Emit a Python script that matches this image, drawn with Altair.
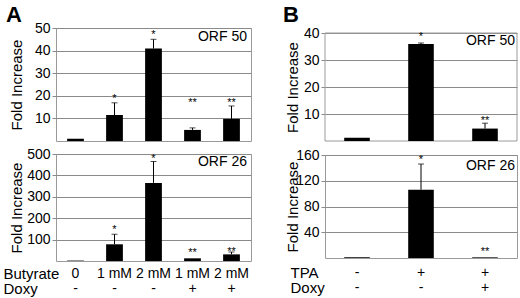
import altair as alt
import pandas as pd

FONT = "Liberation Sans"

# ---------------- Panel A (butyrate) ----------------
a_butyrate = ["0", "1 mM", "2 mM", "1 mM", "2 mM"]
a_doxy = ["-", "-", "-", "+", "+"]

a50_val = [1.0, 11.5, 40.9, 4.9, 9.8]
a50_err = [1.0, 16.9, 45.0, 5.8, 15.5]
a50_star = ["", "*", "*", "**", "**"]
a50_star_at = [0, 20, 48.4, 18.2, 18.2]
a50_ticks = [10, 20, 30, 40, 50]

a26_val = [2, 78, 365, 12.5, 31]
a26_err = [2, 125, 465, 12.5, 42]
a26_star = ["", "*", "*", "**", "**"]
a26_star_at = [0, 159, 492, 50, 55]
a26_ticks = [100, 200, 300, 400, 500]

# ---------------- Panel B (TPA) ----------------
b_tpa = ["-", "+", "+"]
b_doxy = ["-", "-", "+"]

b50_val = [1.2, 35.9, 4.6]
b50_err = [1.2, 36.3, 6.6]
b50_star = ["", "*", "**"]
b50_star_at = [0, 39.6, 8.7]
b50_ticks = [10, 20, 30, 40]

b26_val = [1, 106, 1]
b26_err = [1, 146, 1]
b26_star = ["", "*", "**"]
b26_star_at = [0, 157.6, 14.6]
b26_ticks = [40, 80, 120, 160]

FRAME = "#9a9a9a"


def panel(keys, vals, errs, stars, star_at, ymax, ticks, orf, w, h, pad,
          orf_x, orf_y, xaxis, ytitle_x, ytitle_y, label_size=14,
          letter=None, letter_x=0, letter_y=0, dom_max=None):
    df = pd.DataFrame({"key": keys, "val": vals, "err": errs,
                       "star": stars, "star_at": star_at})
    xs = alt.Scale(paddingInner=pad, paddingOuter=pad / 2)
    ys = alt.Scale(domain=[0, dom_max if dom_max else ymax], nice=False, zero=True)
    yaxis = alt.Axis(values=ticks, grid=True, gridColor="#8a8a8a", gridWidth=1,
                     domain=False, ticks=True, tickSize=4,
                     tickColor="#8a8a8a", labelFontSize=label_size, labelColor="black",
                     labelPadding=2, title="Fold Increase", titleX=ytitle_x, titleY=ytitle_y,
                     titleAngle=270, titleAlign="center", titleBaseline="middle",
                     titleFontSize=15, titleFontWeight="normal", titleColor="black")
    x = alt.X("key:N", sort=keys, scale=xs, axis=xaxis, title=None)
    base = alt.Chart(df)
    bars = base.mark_bar(color="black").encode(
        x=x, y=alt.Y("val:Q", scale=ys, axis=yaxis))
    rule = base.transform_filter("datum.err > datum.val").mark_rule(
        color="black", strokeWidth=1).encode(
        x=x, y=alt.Y("val:Q", scale=ys, axis=yaxis), y2="err:Q")
    cap = base.transform_filter("datum.err > datum.val").mark_tick(
        color="black", size=6, thickness=1).encode(
        x=x, y=alt.Y("err:Q", scale=ys, axis=yaxis))
    star = base.transform_filter("datum.star != ''").mark_text(
        fontSize=11, baseline="middle", dy=3, color="black").encode(
        x=x, y=alt.Y("star_at:Q", scale=ys, axis=yaxis), text="star:N")
    lab = alt.Chart(pd.DataFrame({"t": [orf]})).mark_text(
        align="right", baseline="middle", fontSize=14, color="black").encode(
        x=alt.value(orf_x), y=alt.value(orf_y), text="t:N")
    layers = [bars, rule, cap, star, lab]
    props = dict(width=w, height=h)
    if dom_max:
        # plot frame drawn through the y scale (from 0 up to the top tick)
        frame = alt.Chart(pd.DataFrame({"lo": [0], "hi": [ymax]})).mark_rect(
            filled=False, stroke=FRAME, strokeWidth=1).encode(
            x=alt.value(0), x2=alt.value(w),
            y=alt.Y("hi:Q", scale=ys, axis=yaxis), y2="lo:Q")
        layers.insert(0, frame)
        props["view"] = alt.ViewBackground(stroke=None)
    if letter is not None:
        layers.append(alt.Chart(pd.DataFrame({"t": [letter]})).mark_text(
            align="left", baseline="alphabetic", fontSize=22, fontWeight="bold",
            color="black").encode(
            x=alt.value(letter_x), y=alt.value(letter_y), text="t:N"))
    return alt.layer(*layers).properties(**props)


def bottom_axis(row_titles, title_x, pad):
    return alt.Axis(labelExpr="split(datum.value, '|')", labelAngle=0,
                    labelFontSize=14, labelLineHeight=15, labelPadding=pad,
                    labelColor="black", labelOverlap=False, ticks=False, domain=False,
                    title=row_titles, titleX=title_x, titleY=pad, titleAlign="left",
                    titleBaseline="top", titleAngle=0, titleFontSize=15,
                    titleFontWeight="normal", titleLineHeight=15, titleColor="black")


a_keys = [b + "|" + d for b, d in zip(a_butyrate, a_doxy)]
b_keys = [t + "|" + d for t, d in zip(b_tpa, b_doxy)]

A50 = panel(a_keys, a50_val, a50_err, a50_star, a50_star_at, 50, a50_ticks, "ORF 50",
            195, 113, 0.57, 191, 9, None, -40, 56.5,
            letter="A", letter_x=-50, letter_y=-6)
A26 = panel(a_keys, a26_val, a26_err, a26_star, a26_star_at, 500, a26_ticks, "ORF 26",
            195, 107, 0.57, 191, 8, bottom_axis(["Butyrate", "Doxy"], -53, 5), -40, 53.5)
# B50 shares its row origin with A50; its frame starts 5 px lower (top tick at 40)
B50 = panel(b_keys, b50_val, b50_err, b50_star, b50_star_at, 40, b50_ticks, "ORF 50",
            192, 113, 0.6, 190, 13, None, -33, 59,
            letter="B", letter_x=-42, letter_y=-6, dom_max=40 * 113 / 108)
B26 = panel(b_keys, b26_val, b26_err, b26_star, b26_star_at, 160, b26_ticks, "ORF 26",
            192, 103, 0.6, 190, 11, bottom_axis(["TPA", "Doxy"], -35, 7), -33, 51.5)

colA = alt.vconcat(A50, A26, spacing=13, bounds="flush")
colB = alt.vconcat(B50, B26, spacing=14, bounds="flush")

chart = alt.hconcat(colA, colB, spacing=31).properties(
    padding={"left": 2, "top": 3, "right": 0, "bottom": 0},
    background="white",
).configure_view(stroke=FRAME, strokeWidth=1).configure_axis(
    labelFont=FONT, titleFont=FONT
).configure_text(font=FONT)

chart.save("out.html", embed_options={"renderer": "svg", "actions": False})
